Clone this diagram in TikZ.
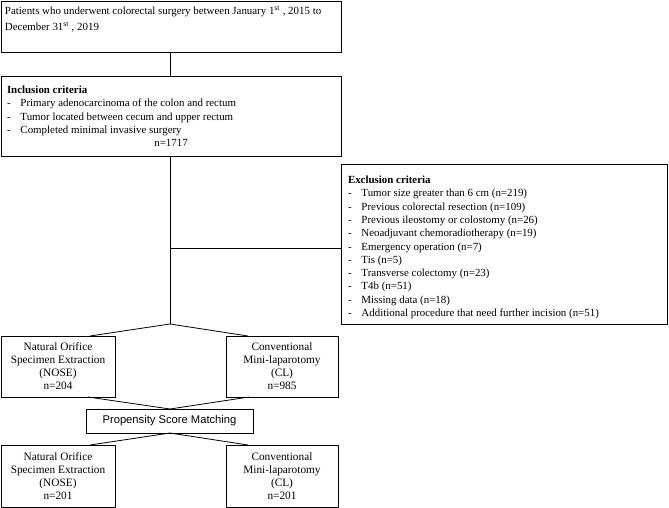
\documentclass[tikz,border=0pt]{standalone}
\usepackage{fontspec}
\setmainfont{Liberation Serif}
\newfontfamily\psmfont{Liberation Sans}
\usetikzlibrary{calc}
\tikzset{
  box/.style={draw, line width=0.8pt, inner sep=0pt, outer sep=0pt, anchor=north west},
  txt/.style={inner sep=0pt, outer sep=0pt, anchor=base west, align=left, font=\fontsize{10.9}{13.3}\selectfont},
  ctxt/.style={inner sep=0pt, outer sep=0pt, align=center, font=\fontsize{11.3}{13}\selectfont},
  conn/.style={line width=0.8pt}
}
\newcommand{\itm}[1]{\makebox[13.5pt][l]{-}#1}
\begin{document}
\begin{tikzpicture}[x=1pt,y=-1pt]
\useasboundingbox (0,0) rectangle (669,508);
% boxes
\node[box, minimum width=340pt, minimum height=51pt] (top) at (1,1) {};
\node[box, minimum width=340pt, minimum height=80pt] (incl) at (1,76) {};
\node[box, minimum width=326pt, minimum height=160pt] (excl) at (341.5,164.5) {};
\node[box, minimum width=114pt, minimum height=61pt] (nose1) at (1,336) {};
\node[box, minimum width=112pt, minimum height=61pt] (cl1) at (226,336) {};
\node[box, minimum width=167pt, minimum height=24pt] (psm) at (86,409) {};
\node[box, minimum width=114pt, minimum height=62pt] (nose2) at (1,445) {};
\node[box, minimum width=112pt, minimum height=62pt] (cl2) at (226,445) {};
% texts (base west = baseline of the last line)
\node[txt, font=\fontsize{10.9}{15.7}\selectfont] (toptxt) at (5,30.2) {Patients who underwent colorectal surgery between January 1\textsuperscript{st} , 2015 to\\December 31\textsuperscript{st} , 2019};
\node[txt] (incltxt) at (7,133.4) {\textbf{Inclusion criteria}\\
\itm{Primary adenocarcinoma of the colon and rectum}\\
\itm{Tumor located between cecum and upper rectum}\\
\itm{Completed minimal invasive surgery}};
\node[txt, anchor=base] (n1717) at (171,146.5) {n=1717};
\node[txt] (excltxt) at (348,316.5) {\textbf{Exclusion criteria}\\
\itm{Tumor size greater than 6 cm (n=219)}\\
\itm{Previous colorectal resection (n=109)}\\
\itm{Previous ileostomy or colostomy (n=26)}\\
\itm{Neoadjuvant chemoradiotherapy (n=19)}\\
\itm{Emergency operation (n=7)}\\
\itm{Tis (n=5)}\\
\itm{Transverse colectomy (n=23)}\\
\itm{T4b (n=51)}\\
\itm{Missing data (n=18)}\\
\itm{Additional procedure that need further incision (n=51)}};
\node[ctxt] (nose1txt) at (nose1.center) {Natural Orifice\\Specimen Extraction\\(NOSE)\\n=204};
\node[ctxt] (cl1txt) at (cl1.center) {Conventional\\Mini-laparotomy\\(CL)\\n=985};
\node[ctxt, font=\psmfont\fontsize{11.2}{12}\selectfont] (psmtxt) at (psm.center) {Propensity Score Matching};
\node[ctxt] (nose2txt) at (nose2.center) {Natural Orifice\\Specimen Extraction\\(NOSE)\\n=201};
\node[ctxt] (cl2txt) at (cl2.center) {Conventional\\Mini-laparotomy\\(CL)\\n=201};
% connectors
\coordinate (apex) at (170,324);
\coordinate (junc) at (170,248);
\draw[conn] (top.south -| apex) -- (incl.north -| apex);
\draw[conn] (incl.south -| apex) -- (apex);
\draw[conn] (junc) -- (junc -| excl.west);
\draw[conn] ($(nose1.north east)+(-25,0)$) -- (apex) -- ($(cl1.north west)+(22,0)$);
\draw[conn] ($(nose1.south east)+(-27,0)$) -- (psm.north -| apex) -- ($(cl1.south west)+(23,0)$);
\draw[conn] ($(nose2.north east)+(-25,0)$) -- (psm.south -| apex) -- ($(cl2.north west)+(22,0)$);
\end{tikzpicture}
\end{document}
